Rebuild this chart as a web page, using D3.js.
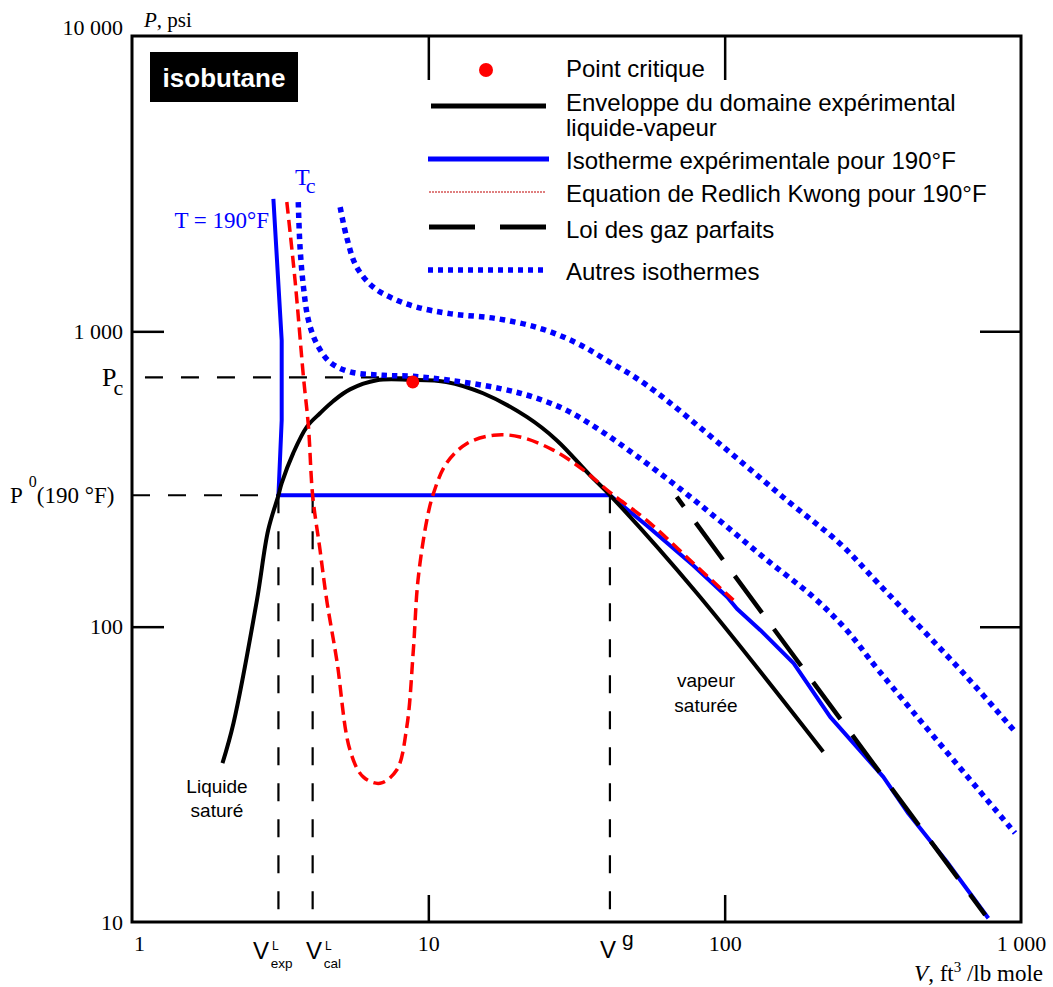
<!DOCTYPE html>
<html>
<head>
<meta charset="utf-8">
<script src="https://cdn.jsdelivr.net/npm/d3@7"></script>
<style>
  body { margin: 0; background: #fff; }
  svg { display: block; }
</style>
</head>
<body>
<script>
// ---- data (V in ft3/lb mole, P in psi) ----
var xTickValues = [1, 10, 100, 1000];
var xTickLabels = ["1", "10", "100", "1 000"];
var yTickValues = [10, 100, 1000, 10000];
var yTickLabels = ["10", "100", "1 000", "10 000"];

var Pc = 698, P0 = 278.6;
var VLexp = 3.12, VLcal = 4.07, Vg = 41.0;
var critV = [8.86], critP = [674];

// enveloppe liquide-vapeur
var envV = [2.02, 2.20, 2.64, 2.88, 3.12, 3.20, 3.50, 3.89, 4.31, 4.77, 5.44, 6.70, 8.68, 11.5, 15.3, 21.5, 27.1, 35.1, 41.0, 80.5, 215];
var envP = [34.5, 47.1, 123, 212, 278.6, 306, 387, 475, 528, 580, 636, 683, 685, 674, 617, 513, 428, 326, 279, 130, 37.7];

// isotherme experimentale 190F
var isoV = [3.00, 3.20, 3.20, 3.12, 41.0, 54.6, 78.4, 102, 110, 132, 171, 227, 343, 417, 562, 776];
var isoP = [2810, 932, 500, 278.6, 278.6, 220, 161, 126, 115, 97.3, 75.1, 49.5, 31.0, 23.3, 16.0, 10.3];

// Redlich Kwong 190F
var rkV = [3.33, 3.55, 3.79, 3.94, 4.07, 4.31, 4.54, 4.91, 5.44, 6.03, 6.87, 7.82, 8.46, 8.90, 9.23, 9.88, 10.4, 11.5, 13.5, 16.6, 20.4, 26.4, 33.4, 41.0, 54.6, 78.4, 107];
var rkP = [2740, 1488, 700, 475, 278.6, 182, 123, 77, 38.2, 31.0, 29.5, 32.7, 45.8, 83.3, 144, 229, 282, 357, 417, 445, 439, 396, 339, 285, 229, 164, 123];

// gaz parfaits
var igV = [68.9, 142, 757];
var igP = [275, 102.5, 10.56];

// autres isothermes : Tc et au-dessus
var tcV = [3.64, 3.69, 3.79, 3.94, 4.20, 4.66, 5.44, 7.05, 8.90, 11.8, 17.5, 22.6, 29.3, 38.0, 50.0, 70.7, 99.0, 139, 199, 258, 330, 955];
var tcP = [2740, 1929, 1412, 1089, 909, 786, 729, 710, 704, 683, 640, 599, 540, 462, 381, 293, 223, 168, 126, 97.3, 71.3, 20.0];
var upV = [5.04, 5.30, 5.73, 6.52, 7.62, 9.14, 11.8, 17.0, 23.8, 31.3, 40.0, 54.6, 102, 162, 245, 330, 656, 955];
var upP = [2634, 2085, 1651, 1412, 1290, 1208, 1148, 1104, 1024, 918, 798, 657, 396, 268, 191, 140, 67.6, 44.1];

var SANS = "Liberation Sans, Arial, sans-serif";
var SERIF = "Liberation Serif, Times New Roman, serif";
var BLUE = "#0000ff", RED = "#ff0000";

var svg = d3.select("body").append("svg")
  .attr("width", 1053)
  .attr("height", 987);

var x = d3.scaleLog().domain([1, 1000]).range([132, 1021]);
var y = d3.scaleLog().domain([10, 10000]).range([922, 36]);

function pts(vs, ps) { return vs.map(function (v, i) { return [v, ps[i]]; }); }

var smooth = d3.line().x(function (d) { return x(d[0]); }).y(function (d) { return y(d[1]); })
  .curve(d3.curveCatmullRom.alpha(0.5));
var straight = d3.line().x(function (d) { return x(d[0]); }).y(function (d) { return y(d[1]); });

// frame
svg.append("rect")
  .attr("x", x(1)).attr("y", y(10000))
  .attr("width", x(1000) - x(1)).attr("height", y(10) - y(10000))
  .attr("fill", "none").attr("stroke", "#000").attr("stroke-width", 3);

// axis labels
function labelText(g, font, size) {
  g.select(".domain").remove();
  g.selectAll("text").attr("font-family", font).attr("font-size", size).attr("fill", "#000");
}
svg.append("g").attr("transform", "translate(" + x(1) + ",0)")
  .call(d3.axisLeft(y).tickValues(yTickValues).tickSize(0).tickPadding(9)
    .tickFormat(function (d) { return yTickLabels[yTickValues.indexOf(d)]; }))
  .call(labelText, SERIF, 22)
  .selectAll("text").filter(function (d) { return d === 10000; }).attr("y", -9);

svg.append("g").attr("transform", "translate(0," + y(10) + ")")
  .call(d3.axisBottom(x).tickValues(xTickValues).tickSize(0).tickPadding(13)
    .tickFormat(function (d) { return xTickLabels[xTickValues.indexOf(d)]; }))
  .call(labelText, SERIF, 22)
  .selectAll("text").filter(function (d) { return d === 1; }).attr("dx", 7);

// inner ticks
function tickStyle(g) {
  g.select(".domain").remove();
  g.selectAll("line").attr("stroke-width", 2.5);
}
svg.append("g").attr("transform", "translate(" + x(1) + ",0)")
  .call(d3.axisRight(y).tickValues([100, 1000]).tickSize(32).tickFormat("")).call(tickStyle);
svg.append("g").attr("transform", "translate(" + x(1000) + ",0)")
  .call(d3.axisLeft(y).tickValues([100, 1000]).tickSize(41).tickFormat("")).call(tickStyle);
svg.append("g").attr("transform", "translate(0," + y(10000) + ")")
  .call(d3.axisBottom(x).tickValues([10, 100]).tickSize(44).tickFormat("")).call(tickStyle);
svg.append("g").attr("transform", "translate(0," + y(10) + ")")
  .call(d3.axisTop(x).tickValues([10, 100]).tickSize(27).tickFormat("")).call(tickStyle);

// reference dashed lines
var refs = svg.append("g").attr("stroke", "#000").attr("stroke-width", 2.2)
  .attr("stroke-dasharray", "18,18").attr("fill", "none");
refs.append("path").attr("d", straight([[1.106, Pc], [critV[0], Pc]]));
refs.append("path").attr("d", straight([[1, P0], [Vg, P0]]));
[VLexp, VLcal, Vg].forEach(function (v) {
  refs.append("path").attr("d", straight([[v, P0], [v, 10]]));
});

// curves
svg.append("path").attr("d", straight(pts(isoV, isoP)))
  .attr("fill", "none").attr("stroke", BLUE).attr("stroke-width", 4).attr("stroke-linejoin", "round");
svg.append("path").attr("d", smooth(pts(envV, envP)))
  .attr("fill", "none").attr("stroke", "#000").attr("stroke-width", 4);
svg.append("path").attr("d", smooth(pts(rkV, rkP)))
  .attr("fill", "none").attr("stroke", RED).attr("stroke-width", 3.5).attr("stroke-dasharray", "12,6");
svg.append("path").attr("d", straight(pts(igV, igP)))
  .attr("fill", "none").attr("stroke", "#000").attr("stroke-width", 4.5)
  .attr("stroke-dasharray", "46,20").attr("stroke-dashoffset", 34);
[pts(tcV, tcP), pts(upV, upP)].forEach(function (d) {
  svg.append("path").attr("d", smooth(d))
    .attr("fill", "none").attr("stroke", BLUE).attr("stroke-width", 5.5).attr("stroke-dasharray", "5.5,5");
});

svg.selectAll("circle.crit").data(pts(critV, critP)).enter().append("circle")
  .attr("class", "crit")
  .attr("cx", function (d) { return x(d[0]); }).attr("cy", function (d) { return y(d[1]); })
  .attr("r", 6.5).attr("fill", RED);

// title box
svg.append("rect").attr("x", 150).attr("y", 52).attr("width", 148).attr("height", 50).attr("fill", "#000");
svg.append("text").attr("x", 224).attr("y", 87).attr("text-anchor", "middle")
  .attr("font-family", SANS).attr("font-weight", "bold").attr("font-size", 26).attr("fill", "#fff")
  .text("isobutane");

// legend
var lg = svg.append("g");
lg.append("circle").attr("cx", 486).attr("cy", 70).attr("r", 7).attr("fill", RED);
lg.append("line").attr("x1", 431).attr("x2", 546).attr("y1", 106).attr("y2", 106)
  .attr("stroke", "#000").attr("stroke-width", 5);
lg.append("line").attr("x1", 428).attr("x2", 549).attr("y1", 159).attr("y2", 159)
  .attr("stroke", BLUE).attr("stroke-width", 5);
lg.append("line").attr("x1", 429).attr("x2", 546).attr("y1", 192).attr("y2", 192)
  .attr("stroke", "#c00000").attr("stroke-width", 1.2).attr("stroke-dasharray", "2,1");
lg.append("line").attr("x1", 429).attr("x2", 546).attr("y1", 227).attr("y2", 227)
  .attr("stroke", "#000").attr("stroke-width", 5).attr("stroke-dasharray", "46,25");
lg.append("line").attr("x1", 428).attr("x2", 548).attr("y1", 270).attr("y2", 270)
  .attr("stroke", BLUE).attr("stroke-width", 5.5).attr("stroke-dasharray", "5,5");

var legendText = [
  [["Point critique"], 77],
  [["Enveloppe du domaine expérimental", "liquide-vapeur"], 111],
  [["Isotherme expérimentale pour 190°F"], 169],
  [["Equation de Redlich Kwong pour 190°F"], 202],
  [["Loi des gaz parfaits"], 238],
  [["Autres isothermes"], 280]
];
lg.selectAll("text").data(legendText).enter().append("text")
  .attr("x", 566).attr("y", function (d) { return d[1]; })
  .attr("font-family", SANS).attr("font-size", 24).attr("fill", "#000")
  .each(function (d) {
    var t = d3.select(this);
    d[0].forEach(function (s, i) {
      t.append("tspan").attr("x", 566).attr("dy", i ? 25 : 0).text(s);
    });
  });

// text helper
function txt(s, px, py, size, font, opts) {
  var t = svg.append("text").attr("x", px).attr("y", py)
    .attr("font-family", font).attr("font-size", size).attr("fill", (opts && opts.fill) || "#000")
    .text(s);
  if (opts && opts.anchor) t.attr("text-anchor", opts.anchor);
  return t;
}
// text with a raised / lowered part
function subsup(base, small, px, py, size, smallSize, shift, font, fill, gap) {
  var t = svg.append("text").attr("x", px).attr("y", py)
    .attr("font-family", font).attr("font-size", size).attr("fill", fill || "#000");
  t.append("tspan").text(base);
  t.append("tspan").attr("font-size", smallSize).attr("dx", gap || 0).attr("dy", shift).text(small);
  return t;
}

// axis titles
var pt = txt("", 144, 27, 21, SERIF);
pt.append("tspan").attr("font-style", "italic").text("P");
pt.append("tspan").text(", psi");

var vt = txt("", 1043, 981, 23, SERIF, { anchor: "end" });
vt.append("tspan").attr("font-style", "italic").text("V");
vt.append("tspan").text(", ft");
vt.append("tspan").attr("font-size", 15).attr("dy", -9).text("3");
vt.append("tspan").attr("dy", 9).text(" /lb mole");

// left labels
subsup("P", "c", 102, 386, 26, 22, 9, SERIF, "#000", -3);
var p0 = subsup("P", "0", 10, 503, 23, 16, -16, SERIF, "#000", 6);
p0.append("tspan").attr("font-size", 23).attr("dy", 16).text("(190 °F)");

// bottom V labels
function vLabel(px, sup, sub) {
  var t = svg.append("text").attr("x", px).attr("y", 959).attr("font-family", SANS).attr("font-size", 24);
  t.append("tspan").text("V");
  t.append("tspan").attr("font-size", 12).attr("dx", 3).attr("dy", -9).text(sup);
  if (sub) t.append("tspan").attr("font-size", 13.5).attr("dx", -8).attr("dy", 18).text(sub);
}
vLabel(253, "L", "exp");
vLabel(306, "L", "cal");
subsup("V", "g", 600, 958, 24, 21, -12, SANS, "#000", 6);

// curve labels
txt("T = 190°F", 269, 228, 23, SERIF, { anchor: "end", fill: BLUE });
subsup("T", "c", 295, 185, 24, 22, 8, SERIF, BLUE, -4);

txt("Liquide", 217, 793, 19, SANS, { anchor: "middle" });
txt("saturé", 217, 817, 19, SANS, { anchor: "middle" });
txt("vapeur", 706, 687, 19, SANS, { anchor: "middle" });
txt("saturée", 706, 712, 19, SANS, { anchor: "middle" });
</script>
</body>
</html>
